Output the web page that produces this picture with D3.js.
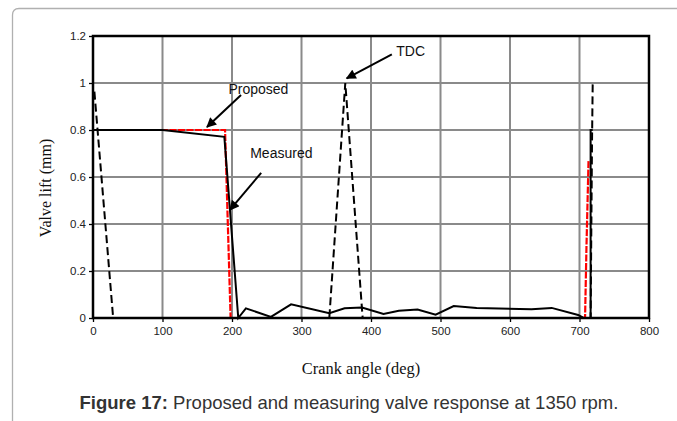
<!DOCTYPE html>
<html>
<head>
<meta charset="utf-8">
<script src="https://cdn.jsdelivr.net/npm/d3@7"></script>
<style>
  html, body { margin: 0; padding: 0; background: #fff; }
  svg { display: block; }
</style>
</head>
<body>
<svg id="chart" width="677" height="421"></svg>
<script>
// ---- Data ----
const xTicks = [0, 100, 200, 300, 400, 500, 600, 700, 800];
const yTicks = [0, 0.2, 0.4, 0.6, 0.8, 1, 1.2];
const yTickLabels = ["0", "0.2", "0.4", "0.6", "0.8", "1", "1.2"];

const proposedAngle = [0, 100, 190, 193, 198, 708, 710, 713];
const proposedLift  = [0.8, 0.8, 0.8, 0.5, 0, 0, 0.3, 0.67];

const measuredAngle = [0, 100, 189, 209, 220, 256, 285, 340, 362, 387, 418, 440, 467, 493, 519, 552, 631, 660, 698, 706, 716, 716, 719];
const measuredLift  = [0.8, 0.8, 0.771, 0, 0.041, 0.005, 0.058, 0.02, 0.041, 0.045, 0.017, 0.031, 0.036, 0.014, 0.051, 0.043, 0.037, 0.043, 0.013, 0, 0, 0.8, 0.8];

const tdcAngle = [2, 29, 340, 363, 388, 716, 718, 719];
const tdcLift  = [0.963, 0, 0, 1.0, 0, 0, 0.75, 1.0];

const annotations = [
  { label: "Proposed", tx: 238, ty: 0.975, x1: 213, y1: 0.949, x2: 164, y2: 0.813 },
  { label: "Measured", tx: 271, ty: 0.703, x1: 242, y1: 0.618, x2: 197, y2: 0.46 },
  { label: "TDC",      tx: 457, ty: 1.137, x1: 430, y1: 1.122, x2: 365, y2: 1.02 }
];

// ---- Layout ----
const svg = d3.select("#chart");
const L = 93, R = 649, T = 36, B = 318;
const x = d3.scaleLinear().domain([0, 800]).range([L, R]);
const y = d3.scaleLinear().domain([0, 1.2]).range([B, T]);

// outer frame (light grey, rounded top-left)
svg.append("path")
  .attr("d", `M12.5,421 L12.5,15 Q12.5,8.5 19,8.5 L677,8.5`)
  .attr("fill", "none").attr("stroke", "#b0b0b0").attr("stroke-width", 1.3);

// gridlines
const g = svg.append("g");
g.selectAll(".vg").data(xTicks.filter(d => d > 0 && d < 800)).join("line")
  .attr("x1", d => x(d)).attr("x2", d => x(d)).attr("y1", T).attr("y2", B)
  .attr("stroke", "#8a8a8a").attr("stroke-width", 2);
g.selectAll(".hg").data(yTicks.filter(d => d > 0 && d < 1.2)).join("line")
  .attr("x1", L).attr("x2", R).attr("y1", d => y(d)).attr("y2", d => y(d))
  .attr("stroke", "#8a8a8a").attr("stroke-width", 2);

// axes
const xAxis = d3.axisBottom(x).tickValues(xTicks).tickSize(4).tickPadding(5).tickFormat(d3.format("d"));
const yAxis = d3.axisLeft(y).tickValues(yTicks).tickSize(4).tickPadding(3).tickFormat((d, i) => yTickLabels[i]);
const gx = svg.append("g").attr("transform", `translate(0,${B})`).call(xAxis);
const gy = svg.append("g").attr("transform", `translate(${L},0)`).call(yAxis);
[gx, gy].forEach(a => {
  a.select(".domain").remove();
  a.selectAll("line").attr("stroke", "#000").attr("stroke-width", 1.3);
  a.selectAll("text").attr("font-family", "Liberation Sans, Arial, sans-serif")
    .attr("font-size", 11.5).attr("fill", "#222");
});

// lines
const lineGen = d3.line().x(d => x(d[0])).y(d => y(d[1]));
const proposed = proposedAngle.map((a, i) => [a, proposedLift[i]]);
const measured = measuredAngle.map((a, i) => [a, measuredLift[i]]);
const tdc = tdcAngle.map((a, i) => [a, tdcLift[i]]);

svg.append("path").datum(proposed).attr("d", lineGen)
  .attr("fill", "none").attr("stroke", "#ff0000").attr("stroke-width", 2.2)
  .attr("stroke-dasharray", "7,1.5");
svg.append("path").datum(measured).attr("d", lineGen)
  .attr("fill", "none").attr("stroke", "#000").attr("stroke-width", 2);
svg.append("path").datum(tdc).attr("d", lineGen)
  .attr("fill", "none").attr("stroke", "#000").attr("stroke-width", 2)
  .attr("stroke-dasharray", "8,4");

// plot frame
svg.append("rect").attr("x", L).attr("y", T).attr("width", R - L).attr("height", B - T)
  .attr("fill", "none").attr("stroke", "#000").attr("stroke-width", 2.5);

// arrow marker
svg.append("defs").append("marker")
  .attr("id", "arrow").attr("viewBox", "0 0 10 10").attr("refX", 9).attr("refY", 5)
  .attr("markerWidth", 6).attr("markerHeight", 5).attr("orient", "auto")
  .append("path").attr("d", "M0,0 L10,5 L0,10 Z").attr("fill", "#000");

annotations.forEach(a => {
  svg.append("line")
    .attr("x1", x(a.x1)).attr("y1", y(a.y1)).attr("x2", x(a.x2)).attr("y2", y(a.y2))
    .attr("stroke", "#000").attr("stroke-width", 2).attr("marker-end", "url(#arrow)");
  svg.append("text").attr("x", x(a.tx)).attr("y", y(a.ty)).attr("dy", "0.35em")
    .attr("text-anchor", "middle")
    .attr("font-family", "Liberation Sans, Arial, sans-serif").attr("font-size", 14)
    .attr("fill", "#111").text(a.label);
});

// axis titles
svg.append("text").attr("transform", "translate(45,188) rotate(-90)")
  .attr("text-anchor", "middle").attr("dy", "0.35em")
  .attr("font-family", "Liberation Serif, Times New Roman, serif").attr("font-size", 16)
  .attr("fill", "#111").text("Valve lift (mm)");
svg.append("text").attr("x", 361).attr("y", 368).attr("dy", "0.35em")
  .attr("text-anchor", "middle")
  .attr("font-family", "Liberation Serif, Times New Roman, serif").attr("font-size", 16.4)
  .attr("fill", "#111").text("Crank angle (deg)");

// caption
const cap = svg.append("text").attr("x", 349).attr("y", 403).attr("dy", "0.35em")
  .attr("text-anchor", "middle")
  .attr("font-family", "Liberation Sans, Arial, sans-serif").attr("font-size", 18.5)
  .attr("fill", "#333");
cap.append("tspan").attr("font-weight", "bold").text("Figure 17:");
cap.append("tspan").text(" Proposed and measuring valve response at 1350 rpm.");
</script>
</body>
</html>
